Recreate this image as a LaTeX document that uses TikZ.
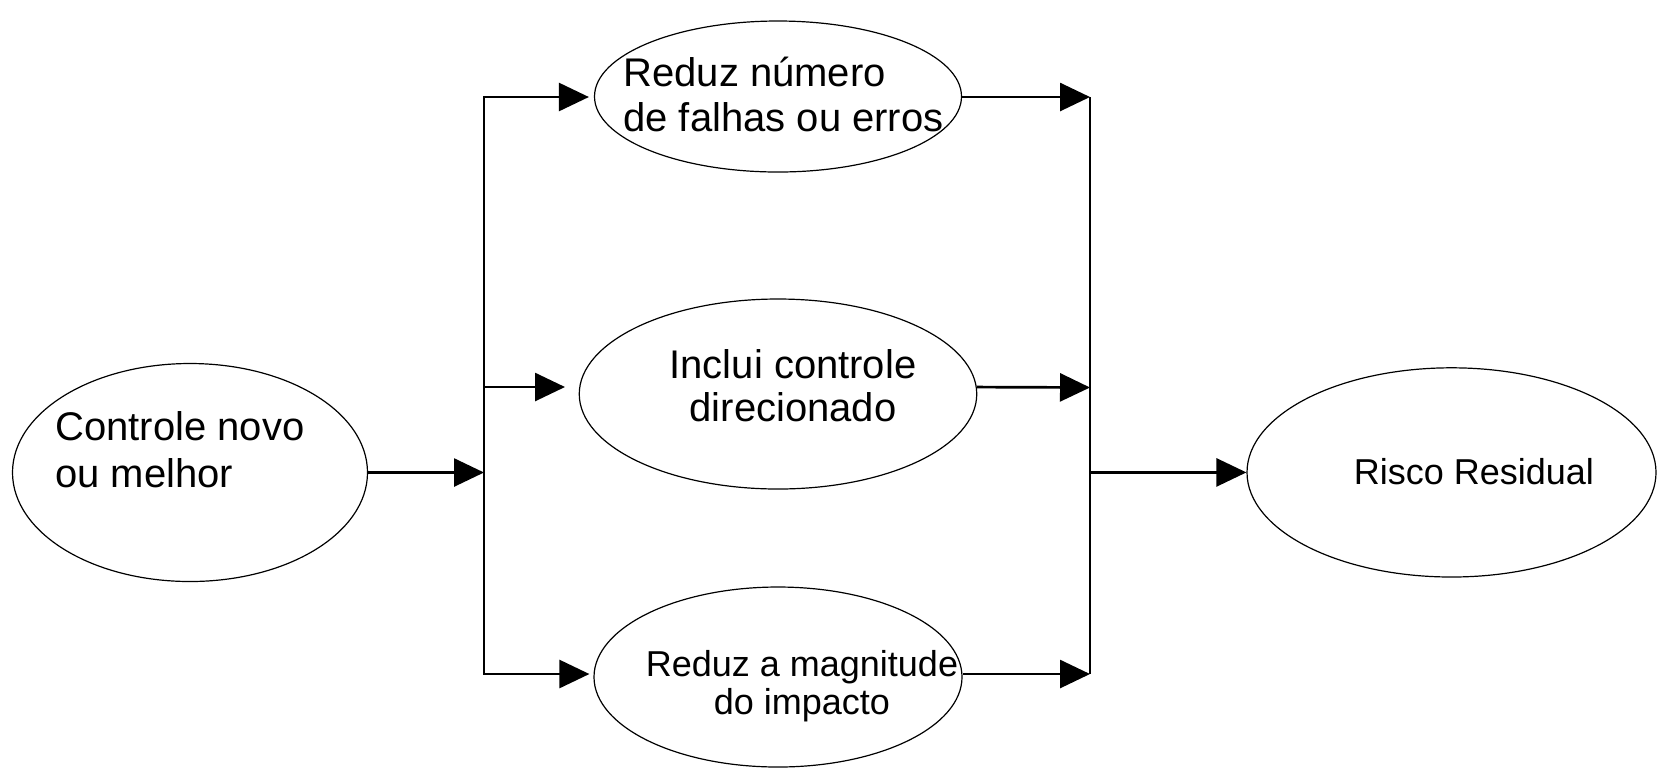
\documentclass[tikz,border=0pt]{standalone}
\usepackage{fontspec}
\setmainfont{Liberation Sans}
\usetikzlibrary{arrows.meta,shapes.geometric}
\begin{document}
\begin{tikzpicture}[x=0.5pt,y=-0.5pt,
  oval/.style={draw, ellipse, line width=0.6pt, inner sep=0pt},
  conn/.style={line width=1.35pt},
  arr/.style={conn, -{Triangle[length=15pt,width=14pt]}},
  bigtxt/.style={font=\fontsize{20}{23.5}\selectfont, inner sep=0pt},
  smalltxt/.style={font=\fontsize{18}{19}\selectfont, inner sep=0pt},
]
\useasboundingbox (0,0) rectangle (1657,768);
% ellipses
\node[oval, minimum width=177.5pt, minimum height=109pt] (A) at (190,472.5) {};
\node[oval, minimum width=183.5pt, minimum height=75.5pt] (B) at (778,96.5) {};
\node[oval, minimum width=198.75pt, minimum height=95pt] (C) at (778,394) {};
\node[oval, minimum width=184pt, minimum height=90pt] (D) at (778,677) {};
\node[oval, minimum width=204.5pt, minimum height=104.6pt] (E) at (1451.5,472.4) {};
% texts
\node[bigtxt, align=left, anchor=west] (tA) at (55,450) {Controle novo\\ou melhor};
\node[bigtxt, font=\fontsize{20}{22.5}\selectfont, align=left, anchor=west] (tB) at (623,94.5) {Reduz número\\de falhas ou erros};
\node[bigtxt, font=\fontsize{20}{21.5}\selectfont, align=center] (tC) at (793,385.5) {Inclui controle\\direcionado};
\node[smalltxt, align=center] (tD) at (802,686) {Reduz a magnitude\\do impacto};
\node[smalltxt, anchor=base] (tE) at (1474,484) {Risco Residual};
% coordinates
\coordinate (jA) at (484,472.5);
\coordinate (bLt) at (484,97);
\coordinate (bLm) at (484,387);
\coordinate (bLb) at (484,674);
\coordinate (cIn) at (565,387);
\coordinate (bRt) at (1090,97);
\coordinate (bRc) at (1090,387.5);
\coordinate (bRm) at (1090,472.5);
\coordinate (bRb) at (1090,674);
% connectors
\draw[arr] (A.east) -- (jA);
\draw[conn, {Triangle[length=15pt,width=14pt]}-{Triangle[length=15pt,width=14pt]}, shorten <=2.5pt, shorten >=2pt]
  (B.west |- bLt) -- (bLt) -- (bLb) -- (D.west |- bLb);
\draw[arr] (bLm) -- (cIn);
\draw[conn] (bRt) -- (bRb);
\draw[arr] (B.east |- bRt) -- (bRt);
\draw[arr] (C.2) -- (bRc);
\draw[arr] (D.east |- bRb) -- (bRb);
\draw[arr] (bRm) -- (E.west);
\end{tikzpicture}
\end{document}
